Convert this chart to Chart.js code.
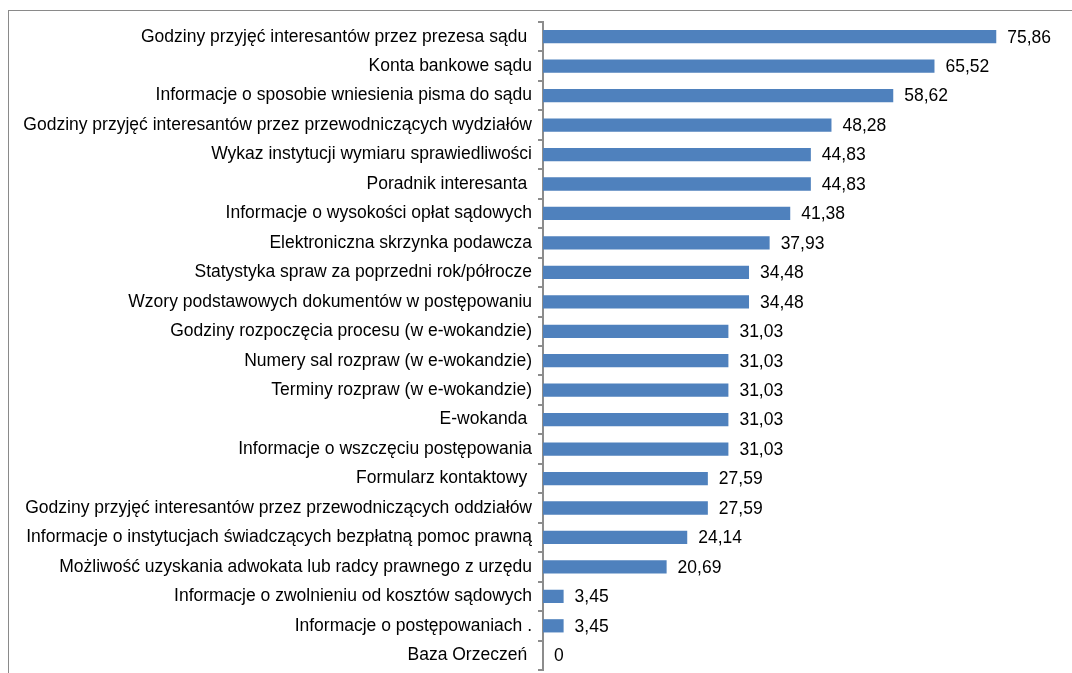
<!DOCTYPE html>
<html>
<head>
<meta charset="utf-8">
<script src="https://cdn.jsdelivr.net/npm/chart.js@4.4.1/dist/chart.umd.min.js"></script>
<style>
    html, body { margin: 0; padding: 0; background: #fff; overflow: hidden; }
    #wrap { position: relative; width: 1072px; height: 673px; }
    #frame {
        position: absolute; left: 8px; top: 10px; width: 1100px; height: 700px;
        border-left: 1px solid #8a8a8a; border-top: 1px solid #8a8a8a;
    }
    canvas { position: absolute; left: 0; top: 0; }
</style>
</head>
<body>
<div id="wrap">
    <div id="frame"></div>
    <canvas id="chart" width="1072" height="673"></canvas>
</div>
<script>
// ----- D A T A
const categories = [
    "Godziny przyjęć interesantów przez prezesa sądu ",
    "Konta bankowe sądu",
    "Informacje o sposobie wniesienia pisma do sądu",
    "Godziny przyjęć interesantów przez przewodniczących wydziałów",
    "Wykaz instytucji wymiaru sprawiedliwości",
    "Poradnik interesanta ",
    "Informacje o wysokości opłat sądowych",
    "Elektroniczna skrzynka podawcza",
    "Statystyka spraw za poprzedni rok/półrocze",
    "Wzory podstawowych dokumentów w postępowaniu",
    "Godziny rozpoczęcia procesu (w e-wokandzie)",
    "Numery sal rozpraw (w e-wokandzie)",
    "Terminy rozpraw (w e-wokandzie)",
    "E-wokanda ",
    "Informacje o wszczęciu postępowania",
    "Formularz kontaktowy ",
    "Godziny przyjęć interesantów przez przewodniczących oddziałów",
    "Informacje o instytucjach świadczących bezpłatną pomoc prawną",
    "Możliwość uzyskania adwokata lub radcy prawnego z urzędu",
    "Informacje o zwolnieniu od kosztów sądowych",
    "Informacje o postępowaniach .",
    "Baza Orzeczeń "
];
const values = [75.86, 65.52, 58.62, 48.28, 44.83, 44.83, 41.38, 37.93, 34.48, 34.48,
    31.03, 31.03, 31.03, 31.03, 31.03, 27.59, 27.59, 24.14, 20.69, 3.45, 3.45, 0];

const FONT_FAMILY = "'Liberation Sans', Arial, sans-serif";
const FONT_SIZE = 17.5;

function fmt(v) {
    return v === 0 ? "0" : v.toFixed(2).replace(".", ",");
}

// value labels next to bar ends
const valueLabels = {
    id: "valueLabels",
    afterDatasetsDraw(chart) {
        const ctx = chart.ctx;
        const meta = chart.getDatasetMeta(0);
        ctx.save();
        ctx.font = FONT_SIZE + "px " + FONT_FAMILY;
        ctx.fillStyle = "#000";
        ctx.textAlign = "left";
        ctx.textBaseline = "middle";
        meta.data.forEach((bar, i) => {
            ctx.fillText(fmt(values[i]), bar.x + 11, bar.y + 1);
        });
        ctx.restore();
    }
};

const config = {
    type: "bar",
    data: {
        labels: categories,
        datasets: [{
            data: values,
            backgroundColor: "#4f81bd",
            borderWidth: 0,
            barPercentage: 0.45,
            categoryPercentage: 1.0
        }]
    },
    options: {
        indexAxis: "y",
        responsive: false,
        animation: false,
        layout: { padding: { left: 8, right: 51, top: 22, bottom: 3 } },
        plugins: {
            legend: { display: false },
            tooltip: { enabled: false }
        },
        scales: {
            x: {
                display: false,
                min: 0,
                max: 80
            },
            y: {
                afterFit: (scale) => {
                    scale.width = 535;
                    scale.paddingTop = 0;
                    scale.paddingBottom = 0;
                },
                border: { display: true, color: "#8c8c8c", width: 2 },
                grid: {
                    display: true,
                    drawOnChartArea: false,
                    drawTicks: true,
                    tickLength: 5,
                    color: "#8c8c8c",
                    lineWidth: 2
                },
                ticks: {
                    color: "#000",
                    padding: 6,
                    autoSkip: false,
                    font: { family: FONT_FAMILY, size: FONT_SIZE }
                }
            }
        }
    },
    plugins: [valueLabels]
};

new Chart(document.getElementById("chart"), config);
</script>
</body>
</html>
